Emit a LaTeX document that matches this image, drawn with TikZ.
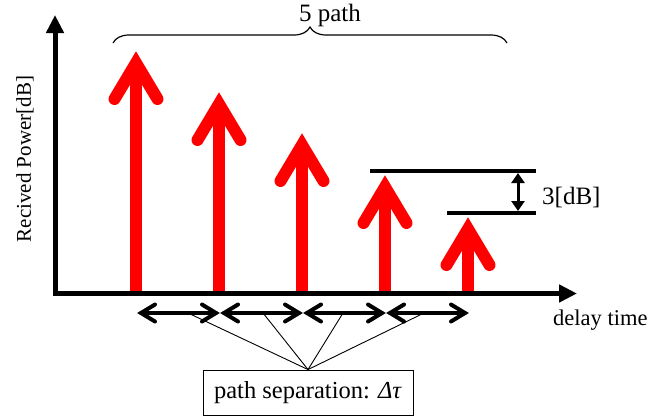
\documentclass[tikz,border=0pt]{standalone}
\usepackage{fontspec}
\setmainfont{Liberation Serif}
\usetikzlibrary{arrows.meta,decorations.pathreplacing}
\begin{document}
\begin{tikzpicture}[x=1pt,y=-1pt,
  redarrow/.style={draw=red,line width=12pt},
  axisline/.style={line width=5pt,line join=miter,
     {Triangle[length=18pt,width=17pt]}-{Triangle[length=18pt,width=17pt]}},
  levelline/.style={line width=4.5pt},
  sepline/.style={line width=4pt,line cap=round,line join=miter},
  lbl/.style={inner sep=0pt},
  thinline/.style={line width=0.9pt}]
\useasboundingbox (0,0) rectangle (652,418);
% red arrows
\foreach \x/\t in {136/51,219/92,302/133,385/175,468/217}{
  \draw[redarrow] (\x,293) -- (\x,\t+12);
  \draw[redarrow,line cap=round,line join=miter] (\x-21.5,\t+48) -- (\x,\t+12) -- (\x+21.5,\t+48);
}
% axes
\coordinate (ytop) at (55,15);
\coordinate (origin) at (55,293.5);
\coordinate (xend) at (577,293.5);
\draw[axisline] (ytop) |- (xend);
% level lines
\coordinate (l1a) at (370,171); \coordinate (l1b) at (536,171);
\coordinate (l2a) at (447,213); \coordinate (l2b) at (536,213);
\draw[levelline] (l1a) -- (l1b);
\draw[levelline] (l2a) -- (l2b);
\coordinate (db1) at (518,173); \coordinate (db2) at (518,211);
\draw[line width=3pt,{Triangle[length=10pt,width=13pt]}-{Triangle[length=10pt,width=13pt]}] (db1) -- (db2);
\node[lbl,anchor=west,font=\fontsize{25}{27}\selectfont] (dB) at (542,197) {3[dB]};
% brace
\coordinate (bl) at (113,43); \coordinate (br) at (507,43);
\draw[line width=1.2pt,decorate,decoration={brace,amplitude=16pt}] (bl) -- (br);
\node[lbl,font=\fontsize{25}{27}\selectfont] (fivepath) at (330,15) {5 path};
% labels
\node[lbl,rotate=90,font=\fontsize{21}{23}\selectfont] (ylab) at (25,159) {Recived Power[dB]};
\node[lbl,anchor=west,font=\fontsize{22.5}{24}\selectfont] (xlab) at (553,320) {delay time};
% separation arrows
\foreach \a/\b in {138/219,221/302,304/385,387/468}{
  \draw[sepline] (\a+3,313) -- (\b-3,313);
  \draw[sepline] (\a+17,304.5) -- (\a+3,313) -- (\a+17,321.5);
  \draw[sepline] (\b-17,304.5) -- (\b-3,313) -- (\b-17,321.5);
}
\node[draw,thinline,minimum width=210pt,minimum height=45pt,inner sep=0pt,font=\fontsize{24.5}{26}\selectfont] (box) at (308,392.5) {path separation: \textit{Δτ}};
\coordinate (s1) at (188,313); \coordinate (s2) at (263,313);
\coordinate (s3) at (343,313); \coordinate (s4) at (424,313);
\foreach \s in {s1,s2,s3,s4}{\draw[thinline] (box.north) -- (\s);}
\end{tikzpicture}
\end{document}
